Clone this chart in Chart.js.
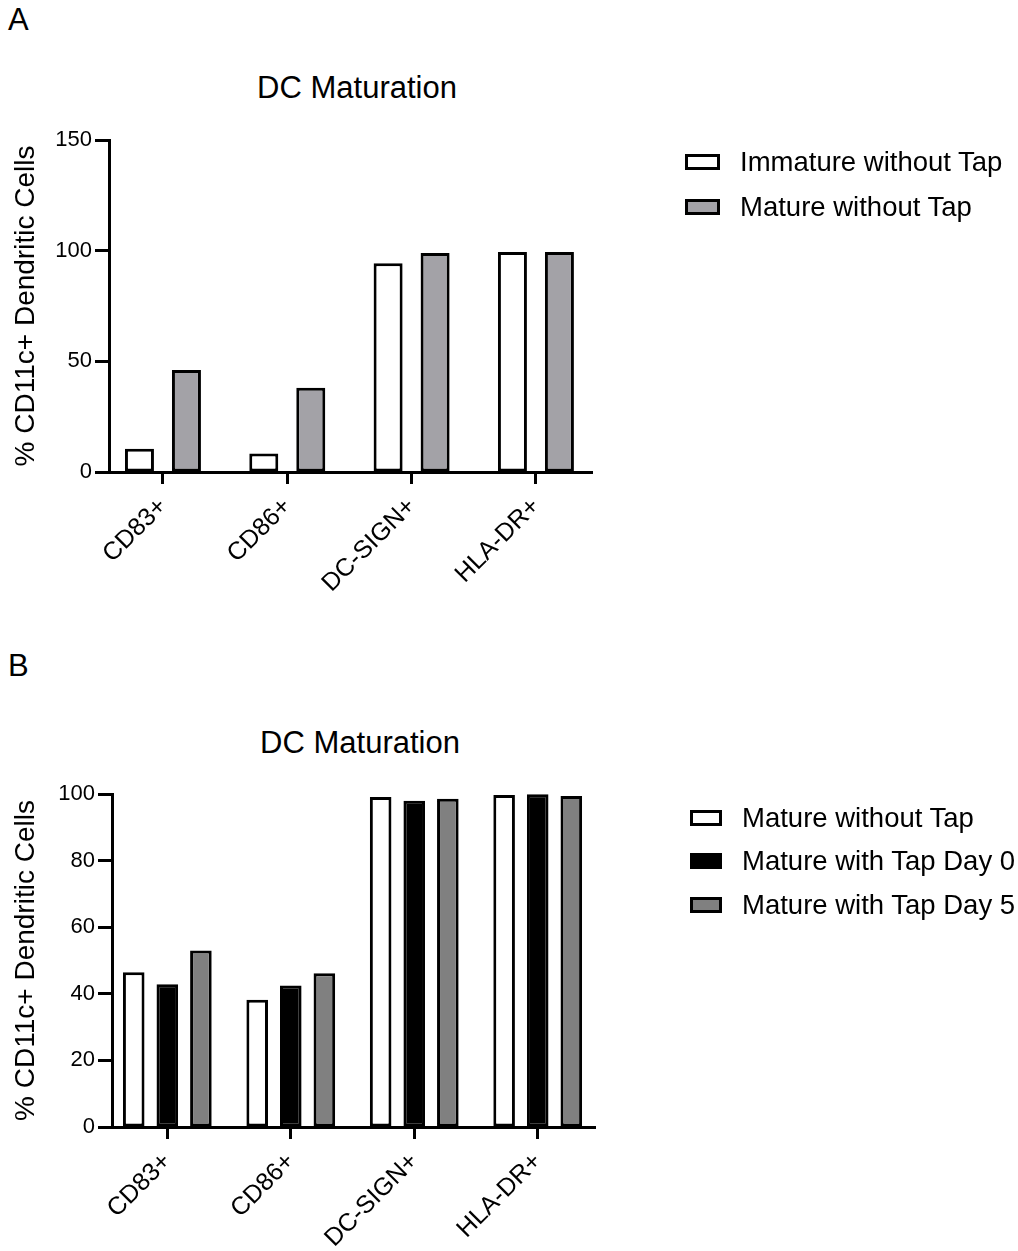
<!DOCTYPE html>
<html><head><meta charset="utf-8">
<script src="https://cdn.jsdelivr.net/npm/chart.js@4.4.0/dist/chart.umd.min.js"></script>
<style>
body{margin:0;background:#fff;font-family:"Liberation Sans",Arial,sans-serif;color:#000;}
#wrap{position:relative;width:1018px;height:1251px;overflow:hidden;}
.cv{position:absolute;left:0;}
.letter{position:absolute;font-size:31px;line-height:1;}
.title{position:absolute;font-size:31px;line-height:1;transform:translateX(-50%);white-space:nowrap;}
.lrow{position:absolute;height:30px;display:flex;align-items:center;white-space:nowrap;font-size:27.5px;line-height:1;}
.sw{box-sizing:border-box;height:16px;border:3px solid #000;}
</style>
</head><body>
<div id="wrap">
  <div class="letter" style="left:8px;top:4px;">A</div>
  <div class="title" style="left:357px;top:72px;">DC Maturation</div>
  <div class="cv" style="top:0;width:1018px;height:640px;"><canvas id="cA"></canvas></div>
  <div id="legA"></div>

  <div class="letter" style="left:8px;top:650px;">B</div>
  <div class="title" style="left:360px;top:727px;">DC Maturation</div>
  <div class="cv" style="top:640px;width:1018px;height:611px;"><canvas id="cB"></canvas></div>
  <div id="legB"></div>
</div>
<script>
// ---------- data ----------
const categories = ["CD83+", "CD86+", "DC-SIGN+", "HLA-DR+"];

const seriesNamesA = ["Immature without Tap", "Mature without Tap"];
const immatureNoTapA = [10.5, 8.4, 94.3, 99.4];
const matureNoTapA   = [46.1, 38.1, 99.0, 99.4];
const yTicksA = [0, 50, 100, 150];

const seriesNamesB = ["Mature without Tap", "Mature with Tap Day 0", "Mature with Tap Day 5"];
const matureNoTapB   = [46.5, 38.2, 99.1, 99.7];
const matureTapDay0B = [42.9, 42.5, 98.0, 99.9];
const matureTapDay5B = [53.0, 46.2, 98.6, 99.4];
const yTicksB = [0, 20, 40, 60, 80, 100];

const yTitle = "% CD11c+ Dendritic Cells";

// ---------- styles ----------
const colorsA = ["#ffffff", "#a3a2a7"];
const colorsB = ["#ffffff", "#000000", "#808080"];
const FONT = "'Liberation Sans', Arial, sans-serif";

function toPoints(arr){ return arr.map((v,i)=>({x:i, y:v})); }

function makeChart(id, cfg){
  const datasets = cfg.series.map((vals,k)=>({
    label: cfg.names[k],
    data: toPoints(vals),
    backgroundColor: cfg.colors[k],
    borderColor: "#000",
    borderWidth: 3,
    borderSkipped: false,
    categoryPercentage: cfg.cp,
    barPercentage: cfg.bp
  }));
  return new Chart(document.getElementById(id), {
    type: "bar",
    data: { datasets },
    options: {
      responsive: true,
      maintainAspectRatio: false,
      animation: false,
      events: [],
      layout: { padding: { left: 0, right: cfg.padRight, top: cfg.top, bottom: 0 } },
      plugins: { legend: { display: false }, tooltip: { enabled: false }, title: { display: false } },
      scales: {
        x: {
          type: "linear",
          offset: false,
          min: cfg.xmin, max: cfg.xmax,
          afterBuildTicks: s => { s.ticks = categories.map((c,i)=>({value:i})); },
          afterFit: s => { s.height = cfg.xHeight; },
          ticks: {
            autoSkip: false, minRotation: 45, maxRotation: 45,
            color: "#000", font: { family: FONT, size: 25 }, padding: 8,
            callback: (v) => categories[v]
          },
          grid: { display: true, offset: false, drawOnChartArea: false, drawTicks: true, tickLength: 12, tickWidth: 3, tickColor: "#000" },
          border: { display: true, width: 3, color: "#000" }
        },
        y: {
          min: 0, max: cfg.ymax,
          afterBuildTicks: s => { s.ticks = cfg.yticks.map(v=>({value:v})); },
          afterFit: s => { s.width = cfg.left; },
          ticks: { color: "#000", font: { family: FONT, size: 22 }, padding: 3 },
          grid: { display: true, drawOnChartArea: false, drawTicks: true, tickLength: 14, tickWidth: 3, tickColor: "#000" },
          border: { display: true, width: 3, color: "#000" },
          title: { display: true, text: yTitle, color: "#000", font: { family: FONT, size: 28 }, padding: { top: 9, bottom: 0 } }
        }
      }
    }
  });
}

makeChart("cA", {
  series: [immatureNoTapA, matureNoTapA], names: seriesNamesA, colors: colorsA,
  cp: 0.756, bp: 0.617, xmin: -0.434, xmax: 3.451, ymax: 150, yticks: yTicksA,
  left: 109, padRight: 1018 - 592, top: 140, xHeight: 640 - 472
});
makeChart("cB", {
  series: [matureNoTapB, matureTapDay0B, matureTapDay5B], names: seriesNamesB, colors: colorsB,
  cp: 0.816, bp: 0.643, xmin: -0.448, xmax: 3.464, ymax: 100, yticks: yTicksB,
  left: 112, padRight: 1018 - 595, top: 154, xHeight: 611 - 487
});

function makeLegend(id, names, colors, boxLeft, boxW, textLeft, rowsY){
  const host = document.getElementById(id);
  names.forEach((n,k)=>{
    const row = document.createElement("div");
    row.className = "lrow";
    row.style.left = boxLeft + "px";
    row.style.top = (rowsY[k] - 15) + "px";
    const sw = document.createElement("div");
    sw.className = "sw";
    sw.style.width = boxW + "px";
    sw.style.background = colors[k];
    sw.style.marginRight = (textLeft - boxLeft - boxW) + "px";
    const t = document.createElement("span");
    t.textContent = n;
    row.appendChild(sw); row.appendChild(t);
    host.appendChild(row);
  });
}
makeLegend("legA", seriesNamesA, colorsA, 685, 35, 740, [162, 207]);
makeLegend("legB", seriesNamesB, colorsB, 690, 32, 742, [818, 861, 905]);
</script>
</body></html>
